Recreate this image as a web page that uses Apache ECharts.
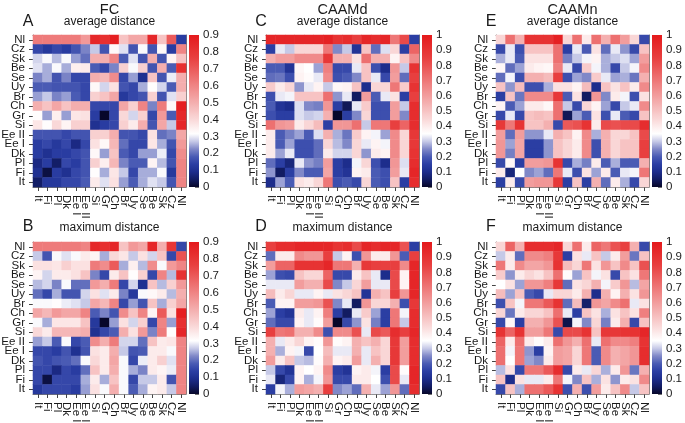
<!DOCTYPE html>
<html><head><meta charset="utf-8">
<script src="https://cdn.jsdelivr.net/npm/echarts@6/dist/echarts.min.js"></script>
<style>html,body{margin:0;padding:0;background:#fff}#c{width:685px;height:423px}</style>
</head><body><div id="c"></div>
<script>
// categories (column order left->right; row order bottom->top)
const countries = ['It','Fi','Pl','Dk','Ee I','Ee II','Si','Gr','Ch','Br','Uy','Se','Be','Sk','Cz','Nl'];
const fcTicksMax = 0.9;
const caamTicksMax = 1;

// Matrices: rows listed from top (Nl) to bottom (It); columns It..Nl
const fcAverage = [
[0.62,0.62,0.62,0.62,0.62,0.55,0.85,0.82,0.88,0.45,0.52,0.52,0.85,0.45,0.70,0.13],
[0.15,0.12,0.15,0.13,0.17,0.22,0.27,0.17,0.33,0.29,0.17,0.31,0.17,0.33,0.13,0.60],
[0.28,0.31,0.26,0.31,0.24,0.20,0.50,0.50,0.60,0.18,0.29,0.17,0.50,0.17,0.34,0.45],
[0.29,0.25,0.31,0.25,0.35,0.36,0.18,0.15,0.22,0.42,0.31,0.42,0.17,0.50,0.18,0.82],
[0.22,0.25,0.17,0.22,0.15,0.15,0.50,0.48,0.58,0.15,0.24,0.10,0.45,0.17,0.30,0.50],
[0.18,0.18,0.17,0.17,0.17,0.15,0.33,0.28,0.38,0.17,0.15,0.25,0.32,0.28,0.18,0.50],
[0.24,0.27,0.22,0.24,0.18,0.15,0.42,0.45,0.52,0.12,0.15,0.17,0.42,0.17,0.29,0.42],
[0.50,0.45,0.52,0.45,0.50,0.50,0.15,0.15,0.15,0.52,0.42,0.60,0.22,0.62,0.33,0.88],
[0.32,0.24,0.35,0.24,0.37,0.38,0.13,0.00,0.15,0.40,0.28,0.42,0.15,0.55,0.18,0.85],
[0.37,0.32,0.40,0.34,0.42,0.42,0.10,0.13,0.15,0.42,0.36,0.50,0.17,0.52,0.27,0.85],
[0.17,0.17,0.17,0.15,0.17,0.17,0.42,0.42,0.50,0.17,0.17,0.15,0.38,0.20,0.22,0.52],
[0.13,0.15,0.12,0.15,0.08,0.15,0.38,0.33,0.48,0.20,0.15,0.15,0.37,0.25,0.17,0.55],
[0.13,0.10,0.13,0.13,0.15,0.17,0.33,0.24,0.45,0.18,0.15,0.24,0.24,0.30,0.15,0.58],
[0.08,0.13,0.05,0.15,0.13,0.17,0.42,0.35,0.48,0.22,0.18,0.18,0.34,0.26,0.17,0.60],
[0.10,0.02,0.13,0.10,0.15,0.17,0.32,0.25,0.37,0.27,0.15,0.25,0.25,0.31,0.12,0.60],
[0.05,0.12,0.12,0.15,0.15,0.18,0.36,0.29,0.38,0.24,0.18,0.25,0.29,0.27,0.17,0.60]
];
const fcMaximum = [
[0.62,0.62,0.62,0.62,0.62,0.60,0.85,0.82,0.86,0.45,0.55,0.52,0.85,0.50,0.80,0.15],
[0.27,0.17,0.31,0.29,0.31,0.36,0.34,0.25,0.40,0.37,0.27,0.38,0.28,0.45,0.15,0.72],
[0.38,0.38,0.37,0.42,0.38,0.38,0.62,0.58,0.70,0.25,0.35,0.26,0.58,0.31,0.55,0.60],
[0.34,0.28,0.36,0.36,0.38,0.45,0.22,0.15,0.36,0.45,0.32,0.42,0.15,0.60,0.26,0.82],
[0.26,0.28,0.22,0.31,0.20,0.20,0.55,0.50,0.62,0.15,0.28,0.10,0.45,0.26,0.42,0.55],
[0.20,0.15,0.25,0.17,0.17,0.28,0.38,0.29,0.36,0.22,0.12,0.31,0.33,0.36,0.26,0.50],
[0.31,0.31,0.32,0.30,0.29,0.27,0.52,0.48,0.60,0.15,0.24,0.17,0.45,0.25,0.42,0.52],
[0.52,0.48,0.55,0.52,0.52,0.60,0.18,0.22,0.17,0.58,0.45,0.60,0.34,0.70,0.38,0.88],
[0.31,0.25,0.37,0.37,0.37,0.45,0.12,0.00,0.24,0.38,0.28,0.42,0.15,0.60,0.24,0.82],
[0.40,0.36,0.48,0.48,0.48,0.50,0.10,0.15,0.18,0.50,0.38,0.55,0.22,0.62,0.32,0.85],
[0.24,0.27,0.18,0.31,0.15,0.18,0.58,0.50,0.62,0.28,0.28,0.20,0.45,0.36,0.37,0.60],
[0.15,0.15,0.13,0.17,0.10,0.17,0.38,0.36,0.50,0.27,0.17,0.18,0.36,0.36,0.31,0.60],
[0.17,0.15,0.17,0.18,0.20,0.31,0.40,0.36,0.52,0.31,0.15,0.30,0.36,0.42,0.29,0.60],
[0.15,0.15,0.08,0.15,0.13,0.20,0.45,0.36,0.50,0.31,0.25,0.22,0.36,0.34,0.30,0.60],
[0.15,0.02,0.15,0.15,0.15,0.25,0.36,0.25,0.45,0.31,0.15,0.27,0.27,0.36,0.17,0.60],
[0.12,0.15,0.15,0.15,0.13,0.24,0.38,0.31,0.50,0.31,0.18,0.25,0.34,0.36,0.27,0.60]
];
const caamdAverage = [
[0.95,0.95,0.95,0.95,0.95,0.95,0.97,0.90,0.92,0.85,0.95,0.92,0.95,0.70,0.82,0.15],
[0.15,0.33,0.30,0.45,0.45,0.45,0.70,0.25,0.30,0.12,0.50,0.22,0.32,0.45,0.15,0.75],
[0.55,0.60,0.60,0.65,0.65,0.65,0.88,0.55,0.55,0.42,0.72,0.55,0.55,0.38,0.50,0.65],
[0.20,0.20,0.12,0.37,0.35,0.27,0.68,0.17,0.17,0.33,0.50,0.18,0.10,0.62,0.30,0.90],
[0.22,0.23,0.18,0.38,0.36,0.33,0.65,0.18,0.20,0.25,0.50,0.33,0.17,0.60,0.22,0.85],
[0.48,0.40,0.45,0.26,0.33,0.38,0.30,0.37,0.38,0.50,0.10,0.45,0.45,0.70,0.48,0.90],
[0.18,0.33,0.34,0.50,0.50,0.50,0.72,0.26,0.33,0.05,0.60,0.20,0.33,0.42,0.15,0.85],
[0.20,0.12,0.10,0.32,0.25,0.24,0.62,0.15,0.04,0.33,0.48,0.18,0.18,0.60,0.30,0.92],
[0.18,0.15,0.15,0.32,0.30,0.31,0.55,0.00,0.15,0.25,0.45,0.18,0.18,0.60,0.25,0.92],
[0.72,0.62,0.60,0.40,0.45,0.52,0.15,0.62,0.62,0.72,0.30,0.70,0.70,0.85,0.75,0.92],
[0.40,0.20,0.24,0.27,0.20,0.32,0.55,0.28,0.23,0.48,0.38,0.34,0.27,0.65,0.45,0.88],
[0.40,0.20,0.27,0.18,0.18,0.22,0.45,0.29,0.25,0.45,0.33,0.38,0.34,0.65,0.45,0.88],
[0.40,0.27,0.33,0.18,0.18,0.22,0.40,0.31,0.31,0.45,0.26,0.40,0.38,0.65,0.45,0.90],
[0.22,0.15,0.08,0.33,0.26,0.24,0.60,0.15,0.10,0.34,0.45,0.18,0.10,0.62,0.32,0.92],
[0.26,0.05,0.15,0.25,0.20,0.20,0.58,0.15,0.12,0.38,0.40,0.20,0.18,0.60,0.33,0.95],
[0.10,0.27,0.20,0.42,0.40,0.45,0.70,0.18,0.20,0.17,0.45,0.20,0.18,0.50,0.15,0.92]
];
const caamdMaximum = [
[0.85,0.92,0.92,0.95,0.95,0.95,0.95,0.90,0.92,0.82,0.95,0.92,0.95,0.95,0.80,0.15],
[0.22,0.40,0.40,0.65,0.62,0.62,0.85,0.30,0.38,0.18,0.62,0.40,0.40,0.62,0.20,0.85],
[0.60,0.75,0.75,0.90,0.90,0.90,0.95,0.70,0.70,0.55,0.88,0.85,0.85,0.85,0.65,0.95],
[0.27,0.18,0.17,0.50,0.45,0.45,0.75,0.17,0.17,0.40,0.50,0.33,0.10,0.82,0.38,0.95],
[0.33,0.33,0.33,0.60,0.55,0.55,0.82,0.25,0.30,0.45,0.60,0.33,0.33,0.82,0.38,0.95],
[0.52,0.40,0.45,0.33,0.33,0.38,0.33,0.42,0.45,0.50,0.12,0.55,0.50,0.85,0.62,0.95],
[0.20,0.38,0.38,0.60,0.60,0.62,0.80,0.25,0.33,0.05,0.62,0.45,0.45,0.55,0.18,0.88],
[0.27,0.15,0.12,0.40,0.33,0.38,0.68,0.15,0.05,0.33,0.48,0.27,0.15,0.70,0.34,0.92],
[0.22,0.17,0.17,0.38,0.33,0.36,0.60,0.00,0.17,0.26,0.42,0.24,0.15,0.70,0.30,0.92],
[0.85,0.70,0.72,0.55,0.55,0.65,0.18,0.65,0.65,0.80,0.33,0.82,0.78,0.92,0.85,0.95],
[0.55,0.33,0.40,0.45,0.38,0.36,0.62,0.36,0.38,0.55,0.50,0.55,0.45,0.88,0.60,0.92],
[0.55,0.28,0.38,0.34,0.17,0.35,0.52,0.33,0.33,0.55,0.33,0.50,0.45,0.88,0.60,0.92],
[0.60,0.40,0.50,0.30,0.29,0.36,0.55,0.38,0.40,0.60,0.33,0.55,0.45,0.88,0.60,0.92],
[0.30,0.17,0.12,0.38,0.35,0.38,0.65,0.15,0.12,0.38,0.40,0.34,0.15,0.82,0.36,0.95],
[0.33,0.08,0.17,0.38,0.28,0.34,0.62,0.17,0.17,0.40,0.40,0.35,0.18,0.82,0.33,0.95],
[0.15,0.34,0.28,0.60,0.58,0.55,0.85,0.25,0.27,0.22,0.55,0.33,0.27,0.62,0.22,0.92]
];
const caamnAverage = [
[0.45,0.72,0.55,0.90,0.90,0.90,0.97,0.45,0.72,0.40,0.72,0.55,0.72,0.60,0.45,0.17],
[0.17,0.33,0.18,0.50,0.50,0.50,0.72,0.15,0.33,0.20,0.42,0.22,0.33,0.26,0.17,0.50],
[0.28,0.33,0.20,0.42,0.42,0.42,0.72,0.24,0.30,0.34,0.38,0.28,0.30,0.32,0.27,0.60],
[0.37,0.22,0.27,0.40,0.38,0.37,0.68,0.33,0.17,0.48,0.34,0.28,0.17,0.30,0.34,0.65],
[0.22,0.34,0.18,0.55,0.55,0.52,0.85,0.18,0.27,0.25,0.48,0.33,0.27,0.28,0.23,0.55],
[0.50,0.26,0.52,0.18,0.18,0.28,0.42,0.42,0.38,0.52,0.10,0.50,0.42,0.50,0.40,0.65],
[0.15,0.50,0.23,0.65,0.65,0.65,0.88,0.20,0.42,0.05,0.62,0.25,0.40,0.34,0.18,0.42],
[0.38,0.20,0.27,0.40,0.40,0.37,0.72,0.30,0.17,0.45,0.38,0.27,0.17,0.30,0.33,0.65],
[0.17,0.33,0.17,0.50,0.52,0.50,0.72,0.04,0.27,0.20,0.42,0.18,0.33,0.20,0.17,0.50],
[0.88,0.70,0.90,0.50,0.50,0.55,0.17,0.78,0.80,0.90,0.40,0.82,0.80,0.82,0.82,0.92],
[0.60,0.22,0.60,0.26,0.26,0.33,0.55,0.50,0.38,0.65,0.28,0.55,0.45,0.45,0.50,0.82],
[0.62,0.27,0.58,0.15,0.15,0.26,0.50,0.45,0.40,0.65,0.18,0.55,0.45,0.50,0.50,0.85],
[0.62,0.24,0.58,0.15,0.15,0.26,0.50,0.45,0.40,0.65,0.18,0.55,0.45,0.50,0.50,0.85],
[0.17,0.37,0.15,0.60,0.60,0.62,0.90,0.17,0.28,0.24,0.40,0.20,0.28,0.20,0.20,0.55],
[0.40,0.08,0.35,0.25,0.27,0.22,0.70,0.33,0.18,0.42,0.27,0.40,0.20,0.33,0.34,0.70],
[0.15,0.40,0.17,0.60,0.62,0.62,0.88,0.15,0.50,0.15,0.55,0.22,0.40,0.28,0.17,0.45]
];
const caamnMaximum = [
[0.45,0.75,0.55,0.92,0.92,0.92,0.95,0.45,0.72,0.40,0.75,0.70,0.80,0.85,0.55,0.17],
[0.30,0.40,0.22,0.65,0.65,0.68,0.88,0.15,0.42,0.33,0.50,0.30,0.40,0.60,0.23,0.50],
[0.70,0.40,0.65,0.58,0.58,0.62,0.90,0.52,0.45,0.70,0.42,0.62,0.50,0.65,0.50,0.80],
[0.48,0.26,0.40,0.45,0.42,0.50,0.72,0.36,0.27,0.50,0.34,0.42,0.17,0.50,0.42,0.70],
[0.35,0.42,0.27,0.62,0.62,0.68,0.88,0.22,0.42,0.45,0.55,0.34,0.48,0.62,0.29,0.58],
[0.52,0.27,0.50,0.20,0.17,0.33,0.45,0.45,0.40,0.55,0.10,0.55,0.38,0.55,0.42,0.62],
[0.18,0.50,0.34,0.70,0.70,0.78,0.90,0.22,0.52,0.06,0.62,0.58,0.65,0.72,0.33,0.42],
[0.45,0.23,0.40,0.45,0.45,0.50,0.72,0.33,0.15,0.50,0.42,0.28,0.42,0.50,0.42,0.68],
[0.17,0.37,0.15,0.55,0.55,0.62,0.80,0.03,0.34,0.25,0.45,0.24,0.40,0.55,0.17,0.50],
[0.90,0.75,0.90,0.60,0.60,0.70,0.17,0.82,0.82,0.90,0.50,0.88,0.88,0.90,0.90,0.95],
[0.75,0.40,0.72,0.40,0.36,0.40,0.72,0.62,0.55,0.72,0.33,0.72,0.65,0.65,0.68,0.90],
[0.72,0.34,0.70,0.26,0.15,0.38,0.60,0.58,0.45,0.70,0.20,0.65,0.55,0.58,0.62,0.92],
[0.72,0.35,0.70,0.27,0.25,0.40,0.60,0.58,0.45,0.70,0.20,0.65,0.55,0.58,0.62,0.92],
[0.29,0.42,0.17,0.70,0.70,0.78,0.92,0.17,0.40,0.33,0.45,0.28,0.40,0.62,0.23,0.55],
[0.50,0.10,0.42,0.33,0.33,0.40,0.70,0.34,0.25,0.50,0.28,0.42,0.26,0.40,0.42,0.65],
[0.17,0.50,0.28,0.72,0.72,0.78,0.90,0.18,0.55,0.18,0.60,0.40,0.50,0.65,0.30,0.50]
];

// ---- styling ----
const FONT = "'Liberation Sans', Arial, Helvetica, sans-serif";
const TXT = '#1a1a1a';
const stopT = [0,0.05,0.1,0.15,0.2,0.25,0.3,0.35,0.45,0.55,0.65,0.75,0.85,1];
const stopC = ['#07072a','#121c62','#1d2d8c','#2b3ea3','#4a5bb4','#8088c8','#c6c9e7','#ffffff','#f9d6d6','#f4b0b0','#f08a8a','#ec6464','#e83f3f','#e41a1c'];
function hex(c){return [1,3,5].map(i=>parseInt(c.substr(i,2),16));}
function colorAt(t){
  for(let i=1;i<stopT.length;i++){
    if(t<=stopT[i]){
      const f=(t-stopT[i-1])/(stopT[i]-stopT[i-1]);
      const a=hex(stopC[i-1]), b=hex(stopC[i]);
      return 'rgb('+a.map((v,k)=>Math.round(v+(b[k]-v)*f)).join(',')+')';
    }
  }
  return stopC[stopC.length-1];
}
const NP=40;
const palette=[]; for(let k=0;k<=NP;k++) palette.push(colorAt(k/NP));

const panels = [
  {letter:'A', title:'FC', sub:'average distance', data:fcAverage, max:fcTicksMax, left:33, top:35},
  {letter:'C', title:'CAAMd', sub:'average distance', data:caamdAverage, max:caamTicksMax, left:266, top:35},
  {letter:'E', title:'CAAMn', sub:'average distance', data:caamnAverage, max:caamTicksMax, left:496, top:35},
  {letter:'B', title:'', sub:'maximum distance', data:fcMaximum, max:fcTicksMax, left:33, top:242},
  {letter:'D', title:'', sub:'maximum distance', data:caamdMaximum, max:caamTicksMax, left:266, top:242},
  {letter:'F', title:'', sub:'maximum distance', data:caamnMaximum, max:caamTicksMax, left:496, top:242}
];
const SIZE_W=153, SIZE_H=152, CB_GAP=3, CB_W=10;

function toCells(m){const out=[];m.forEach((row,r)=>row.forEach((v,c)=>out.push([c,countries.length-1-r,v])));return out;}

const grid=[], xAxis=[], yAxis=[], series=[], graphic=[];
const fcSeries=[], caamSeries=[];
panels.forEach((p,i)=>{
  // heatmap grid
  grid.push({left:p.left, top:p.top, width:SIZE_W, height:SIZE_H, outerBoundsMode:'none'});
  const gi = grid.length-1;
  const lab = {fontSize:11.5, color:TXT, fontFamily:FONT, interval:0};
  xAxis.push({type:'category', gridIndex:gi, data:countries, position:'bottom',
    axisLine:{show:true, lineStyle:{color:'#777', width:1}},
    axisTick:{show:true, alignWithLabel:true, interval:0, length:4, lineStyle:{color:'#444'}},
    axisLabel:Object.assign({rotate:-90, margin:8}, lab), splitLine:{show:false}});
  const xi = xAxis.length-1;
  yAxis.push({type:'category', gridIndex:gi, data:countries, position:'left',
    axisLine:{show:true, lineStyle:{color:'#777', width:1}},
    axisTick:{show:true, alignWithLabel:true, interval:0, length:4, lineStyle:{color:'#444'}},
    axisLabel:Object.assign({margin:8}, lab), splitLine:{show:false}});
  const yi = yAxis.length-1;
  // frame top/right
  xAxis.push({type:'category', gridIndex:gi, data:countries, position:'top', axisLine:{show:true, lineStyle:{color:'#777'}}, axisTick:{show:false}, axisLabel:{show:false}});
  yAxis.push({type:'category', gridIndex:gi, data:countries, position:'right', axisLine:{show:true, lineStyle:{color:'#777'}}, axisTick:{show:false}, axisLabel:{show:false}});
  series.push({type:'heatmap', name:p.letter, xAxisIndex:xi, yAxisIndex:yi, data:toCells(p.data),
    itemStyle:{borderWidth:0}, emphasis:{disabled:true}, silent:true, progressive:0, z:1});
  (p.max<1?fcSeries:caamSeries).push(series.length-1);

  // colorbar grid
  grid.push({left:p.left+SIZE_W+CB_GAP, top:p.top, width:CB_W, height:SIZE_H, outerBoundsMode:'none'});
  const cg = grid.length-1;
  xAxis.push({type:'category', gridIndex:cg, data:['scale'], show:false});
  const cxi = xAxis.length-1;
  yAxis.push({type:'value', gridIndex:cg, min:0, max:p.max, interval:0.1, position:'right',
    axisLine:{show:false}, splitLine:{show:false},
    axisTick:{show:true, inside:true, length:4, lineStyle:{color:'rgba(0,0,0,0.55)', width:1}},
    axisLabel:{show:true, margin:4, fontSize:11.5, color:TXT, fontFamily:FONT,
      formatter:v=>String(Math.round(v*10)/10)}});
  const cyi = yAxis.length-1;
  series.push({type:'bar', xAxisIndex:cxi, yAxisIndex:cyi, data:[p.max], barWidth:'100%', silent:true, z:1,
    itemStyle:{color:new echarts.graphic.LinearGradient(0,1,0,0, palette.map((c,k)=>({offset:k/NP, color:c})))}});

  // texts
  const cx = p.left + SIZE_W/2;
  const isTop = p.top < 100;
  graphic.push({type:'text', x:p.left-5, y:isTop?22:227, style:{text:p.letter, font:'16px '+FONT, fill:TXT, textAlign:'center', textVerticalAlign:'middle'}});
  if(p.title) graphic.push({type:'text', x:cx, y:9.5, style:{text:p.title, font:'14.5px '+FONT, fill:TXT, textAlign:'center', textVerticalAlign:'middle'}});
  graphic.push({type:'text', x:cx, y:isTop?21.5:228, style:{text:p.sub, font:'12px '+FONT, fill:TXT, textAlign:'center', textVerticalAlign:'middle'}});
});

const chart = echarts.init(document.getElementById('c'), null, {renderer:'canvas'});
chart.setOption({
  animation:false,
  backgroundColor:'#fff',
  textStyle:{fontFamily:FONT},
  grid, xAxis, yAxis, series, graphic,
  visualMap:[
    {type:'continuous', show:false, min:0, max:fcTicksMax, dimension:2, seriesIndex:fcSeries, inRange:{color:palette}},
    {type:'continuous', show:false, min:0, max:caamTicksMax, dimension:2, seriesIndex:caamSeries, inRange:{color:palette}}
  ]
});
</script></body></html>
